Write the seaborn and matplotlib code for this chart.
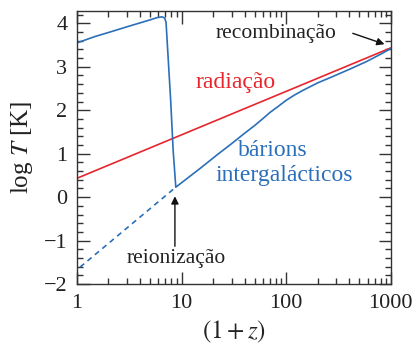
import numpy as np
import pandas as pd
import matplotlib
matplotlib.use("Agg")
import matplotlib.pyplot as plt
from matplotlib.ticker import MultipleLocator, FixedLocator, LogLocator, NullFormatter
import seaborn as sns

# ---- data: temperature histories vs (1+z) ----
rad_z = [1, 1000]
rad_logT = [0.435, 3.435]

igm_z = [1.0, 1.5, 2.07, 3.0, 4.0, 5.0, 5.8, 6.5, 6.9, 7.1, 7.85, 8.3, 8.8,
         15, 22, 30, 40, 50, 60, 70, 85, 100, 120, 145, 200, 281, 400, 585, 800, 1000]
igm_logT = [3.55, 3.70, 3.80, 3.92, 4.01, 4.08, 4.13, 4.15, 4.12, 4.02, 2.25, 1.08, 0.23,
            0.66, 0.98, 1.23, 1.47, 1.65, 1.81, 1.95, 2.10, 2.23, 2.35, 2.46, 2.63, 2.78,
            2.94, 3.12, 3.29, 3.42]

adiab_z = [1.07, 8.8]
adiab_logT = [-1.61, 0.23]

xticks = [1, 10, 100, 1000]
xticklabels = ["1", "10", "100", "1000"]
yticks = [-2, -1, 0, 1, 2, 3, 4]
yticklabels = ["\u22122", "\u22121", "0", "1", "2", "3", "4"]

RED = "#e8252c"
BLUE = "#2b6fb9"

sns.set_style("ticks")
plt.rcParams["font.family"] = ["Liberation Serif", "DejaVu Serif"]
plt.rcParams["mathtext.fontset"] = "stix"

fig = plt.figure(figsize=(4.14, 3.49), dpi=100)
ax = fig.add_axes([0.186, 0.186, 0.758, 0.782])

df_rad = pd.DataFrame({"z": rad_z, "logT": rad_logT})
df_igm = pd.DataFrame({"z": igm_z, "logT": igm_logT})
df_ad = pd.DataFrame({"z": adiab_z, "logT": adiab_logT})

sns.lineplot(data=df_rad, x="z", y="logT", ax=ax, color=RED, lw=1.2, sort=False)
sns.lineplot(data=df_igm, x="z", y="logT", ax=ax, color=BLUE, lw=1.2, sort=False)
sns.lineplot(data=df_ad, x="z", y="logT", ax=ax, color=BLUE, lw=1.2, sort=False,
             linestyle=(0, (3.2, 2.6)))

ax.set_xscale("log")
ax.set_xlim(1, 1000)
ax.set_ylim(-2, 4.28)

ax.xaxis.set_major_locator(FixedLocator(xticks))
ax.set_xticklabels(xticklabels)
ax.xaxis.set_minor_locator(LogLocator(base=10, subs=np.arange(2, 10)))
ax.xaxis.set_minor_formatter(NullFormatter())
ax.yaxis.set_major_locator(FixedLocator(yticks))
ax.set_yticklabels(yticklabels)
ax.yaxis.set_minor_locator(MultipleLocator(0.2))

edge = "#333333"
for s in ax.spines.values():
    s.set_color(edge)
    s.set_linewidth(1.0)
ax.tick_params(which="both", direction="in", top=True, right=True,
               color=edge, width=1.0, labelsize=16, labelcolor="#222222")
ax.tick_params(which="major", length=9, pad=7)
ax.tick_params(which="minor", length=4.5)

ax.set_xlabel("$(1+z)$", fontsize=18, color="#222222", labelpad=4)
ax.set_ylabel("log $T$ [K]", fontsize=18, color="#222222", labelpad=6)

ax.text(79.6, 3.77, "recombinação", fontsize=15.5, color="#222222",
        ha="center", va="center")
ax.annotate("", xy=(870, 3.52), xytext=(433, 3.77),
            arrowprops=dict(arrowstyle="-|>", color="#111111", lw=1.0,
                            mutation_scale=11, shrinkA=0, shrinkB=0))
ax.text(33, 2.64, "radiação", fontsize=17, color=RED, ha="center", va="center")
ax.text(74.5, 1.08, "bárions", fontsize=17, color=BLUE, ha="center", va="center")
ax.text(94.8, 0.50, "intergalácticos", fontsize=17, color=BLUE,
        ha="center", va="center")
ax.text(8.83, -1.40, "reionização", fontsize=15.5, color="#222222",
        ha="center", va="center")
ax.annotate("", xy=(8.63, 0.02), xytext=(8.63, -1.13),
            arrowprops=dict(arrowstyle="-|>", color="#111111", lw=1.0,
                            mutation_scale=11, shrinkA=0, shrinkB=0))

fig.savefig("out.png", dpi=100)
